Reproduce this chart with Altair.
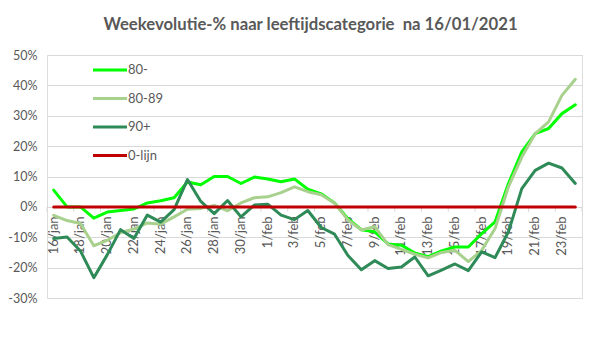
import altair as alt
import pandas as pd

dates = ["16/jan", "17/jan", "18/jan", "19/jan", "20/jan", "21/jan", "22/jan", "23/jan",
         "24/jan", "25/jan", "26/jan", "27/jan", "28/jan", "29/jan", "30/jan", "31/jan",
         "1/feb", "2/feb", "3/feb", "4/feb", "5/feb", "6/feb", "7/feb", "8/feb",
         "9/feb", "10/feb", "11/feb", "12/feb", "13/feb", "14/feb", "15/feb", "16/feb",
         "17/feb", "18/feb", "19/feb", "20/feb", "21/feb", "22/feb", "23/feb", "24/feb"]

s80min = [5.5, 0.0, 0.0, -3.7, -1.7, -1.2, -0.7, 1.3, 2.0, 3.0,
          8.2, 7.3, 10.0, 10.0, 7.7, 9.8, 9.2, 8.3, 9.2, 5.8,
          4.3, 1.3, -3.9, -7.5, -8.2, -12.2, -12.6, -15.2, -16.4, -14.5,
          -13.2, -13.2, -8.8, -4.9, 7.7, 18.1, 24.1, 25.8, 30.7, 33.6]

s80_89 = [-2.8, -4.5, -5.5, -12.8, -11.0, -8.5, -7.3, -5.3, -5.7, -3.3,
          -0.8, -0.5, 0.5, -1.3, 1.3, 3.0, 3.3, 4.7, 6.6, 5.0,
          4.0, 1.2, -4.3, -7.6, -6.5, -12.4, -14.0, -15.6, -16.8, -15.0,
          -14.3, -18.0, -14.3, -7.1, 6.6, 16.4, 24.1, 28.0, 36.7, 42.0]

s90plus = [-10.4, -9.9, -14.5, -23.3, -15.8, -7.5, -10.4, -2.7, -5.0, -0.9,
           9.0, 1.8, -2.2, 2.1, -3.3, 0.6, 0.9, -2.7, -4.2, -1.2,
           -6.8, -9.0, -16.0, -20.7, -17.7, -20.3, -19.8, -16.5, -22.7, -20.8,
           -18.8, -21.0, -14.8, -16.7, -8.2, 6.0, 12.0, 14.4, 12.8, 7.7]

s0lijn = [0.0] * len(dates)

series_names = ["80-", "80-89", "90+", "0-lijn"]
series_colors = ["#00FF00", "#A9D18E", "#2E8B57", "#C00000"]
y_ticks = [-30, -20, -10, 0, 10, 20, 30, 40, 50]

rows = []
for name, vals in zip(series_names, [s80min, s80_89, s90plus, s0lijn]):
    for i, (d, v) in enumerate(zip(dates, vals)):
        rows.append({"dag": d, "reeks": name, "waarde": v, "idx": i})
df = pd.DataFrame(rows)

FONT = "Lato"
GREY = "#595959"

xscale = alt.Scale(type="band", domain=dates, paddingInner=0, paddingOuter=0)
yscale = alt.Scale(domain=[-30, 50], nice=False, zero=False)

x_axis = alt.Axis(values=dates[::2], title=None, labelAngle=270, grid=False, ticks=False,
                  tickSize=0, domain=True, domainColor="#D9D9D9", domainWidth=1,
                  offset=-91.125, labelPadding=9, labelFont=FONT, labelFontSize=13,
                  labelColor=GREY, labelOverlap=False, labelBound=False, labelFlush=False)
y_axis = alt.Axis(values=y_ticks, labelExpr="datum.value + '%'", title=None, domain=False,
                  ticks=False, tickSize=0, labelPadding=10, labelFont=FONT, labelFontSize=12.5,
                  labelColor=GREY, grid=True, gridColor="#D9D9D9", gridWidth=1)

tick_df = pd.DataFrame({"dag": dates[::2]})
ticks = alt.Chart(tick_df).mark_rule(color="#D9D9D9", strokeWidth=1).encode(
    x=alt.X("dag:O", scale=xscale, bandPosition=0, axis=x_axis),
    y=alt.YDatum(0, scale=yscale, axis=y_axis),
    y2=alt.Y2Datum(-1.65),
)
end_tick = alt.Chart(pd.DataFrame({"dag": dates[-1:]})).mark_rule(color="#D9D9D9", strokeWidth=1).encode(
    x=alt.X("dag:O", scale=xscale, bandPosition=1, axis=x_axis),
    y=alt.YDatum(0, scale=yscale, axis=y_axis),
    y2=alt.Y2Datum(-1.65),
)

lines = alt.Chart(df).mark_line(strokeWidth=3, strokeJoin="round", strokeCap="round").encode(
    x=alt.X("dag:O", scale=xscale, bandPosition=0.5, axis=x_axis),
    y=alt.Y("waarde:Q", scale=yscale, axis=y_axis),
    color=alt.Color("reeks:N", scale=alt.Scale(domain=series_names, range=series_colors),
                    legend=alt.Legend(title=None, orient="none", legendX=53, legendY=5,
                                      direction="vertical", symbolType="M-2,0H2",
                                      symbolSize=289, symbolStrokeWidth=3,
                                      labelFont=FONT, labelFontSize=13, labelColor=GREY,
                                      labelOffset=8, rowPadding=11.5, padding=0)),
    order=alt.Order("idx:Q"),
)

chart = alt.layer(ticks, end_tick, lines).properties(
    width=535,
    height=243,
    title=alt.TitleParams("Weekevolutie-% naar leeftijdscategorie\u00a0 na 16/01/2021",
                          font=FONT, fontSize=16.7, fontWeight="bold", color=GREY,
                          anchor="middle", frame="group", dx=-4, offset=15),
    autosize=alt.AutoSizeParams(type="none"),
    padding={"left": 39, "top": 47, "right": 9, "bottom": 53},
).configure_view(stroke=None).configure(background="white")

chart.save("out.html", embed_options={"renderer": "svg", "actions": False})
